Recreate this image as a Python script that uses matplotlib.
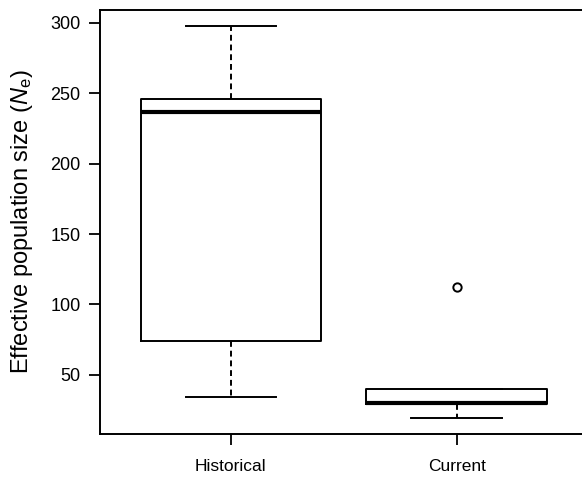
import matplotlib
matplotlib.use('Agg')
import matplotlib.pyplot as plt

plt.rcParams['font.family'] = ['Liberation Sans', 'DejaVu Sans']
plt.rcParams['mathtext.fontset'] = 'custom'
plt.rcParams['mathtext.rm'] = 'Liberation Sans'
plt.rcParams['mathtext.it'] = 'Liberation Sans:italic'

# five-number summaries per period, plus outliers
groups = ['Historical', 'Current']
whisker_low = [34, 19]
q1 = [74, 29]
medians = [237, 30]
q3 = [246, 40]
whisker_high = [298, 40]
outliers = [[], [112]]

stats = []
for i, name in enumerate(groups):
    stats.append({'label': name, 'whislo': whisker_low[i], 'q1': q1[i],
                  'med': medians[i], 'q3': q3[i], 'whishi': whisker_high[i],
                  'fliers': outliers[i]})

fig = plt.figure(figsize=(5.82, 4.79), dpi=100)
# R-style plot region, right edge runs a little past the page
ax = fig.add_axes([0.1718, 0.0939, 0.8376, 0.885])

ax.bxp(stats, positions=[1, 2], widths=0.8, capwidths=0.4,
       boxprops=dict(color='black', linewidth=1.4),
       medianprops=dict(color='black', linewidth=3),
       whiskerprops=dict(color='black', linewidth=1.4, linestyle=(0, (3, 2))),
       capprops=dict(color='black', linewidth=1.4),
       flierprops=dict(marker='o', markerfacecolor='white', markeredgecolor='black',
                       markersize=6, markeredgewidth=1.4))

# axis ranges padded by 4% like base R
lo = min(min(whisker_low), min(min(o) if o else 1e9 for o in outliers))
hi = max(max(whisker_high), max(max(o) if o else -1e9 for o in outliers))
pad = 0.04 * (hi - lo)
ax.set_ylim(lo - pad, hi + pad)
ax.set_xlim(0.5 - 0.08, 2.5 + 0.08)

ax.set_yticks([50, 100, 150, 200, 250, 300])
ax.set_xticks([1, 2])
ax.set_xticklabels(groups)
ax.tick_params(axis='y', length=8, width=1.3, pad=6, labelsize=13)
ax.tick_params(axis='x', length=8, width=1.3, pad=10, labelsize=12.5)
for s in ax.spines.values():
    s.set_linewidth(1.4)

ax.set_ylabel('Effective population size ($\\mathit{N}_\\mathrm{e}$)', fontsize=17)
ax.yaxis.set_label_coords(-0.133, 0.5)

fig.savefig('out.png', dpi=100)
